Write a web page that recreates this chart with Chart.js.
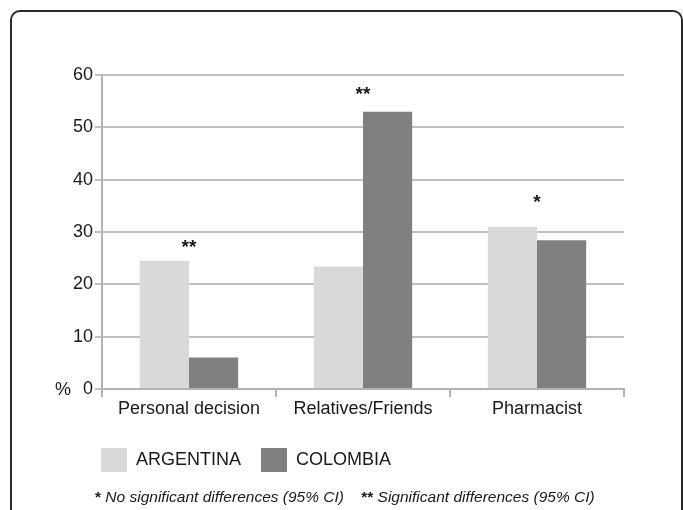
<!DOCTYPE html>
<html>
<head>
<meta charset="utf-8">
<script src="https://cdn.jsdelivr.net/npm/chart.js@4"></script>
<style>
  body { margin: 0; background: #fff; }
  #frame {
    position: absolute; left: 10px; top: 10px; width: 673px; height: 520px;
    border: 2px solid #2a2a2a; border-radius: 10px; box-sizing: border-box;
  }
  #wrap { position: absolute; left: 0; top: 0; width: 683px; height: 510px; }
</style>
</head>
<body>
<div id="frame"></div>
<div id="wrap"><canvas id="myChart" width="683" height="510"></canvas></div>
<script>
var categories = ["Personal decision", "Relatives/Friends", "Pharmacist"];
var argentina = [24.5, 23.4, 31.0];
var colombia = [6.0, 53.0, 28.4];
var yTicks = [0, 10, 20, 30, 40, 50, 60];
// significance marks and where they sit (in % units)
var marks = ["**", "**", "*"];
var markLevel = [27.8, 57.0, 36.4];
var footnote = [["*", "bold"], [" No significant differences (95% CI)", "italic"], ["    ", "italic"], ["**", "bold"], [" Significant differences (95% CI)", "italic"]];

var textColor = "#1a1a1a";
var fontName = "'Liberation Sans', Arial, sans-serif";
var legendShift = 21;

var extras = {
  id: "extras",
  afterLayout: function(chart) {
    // legend sits a bit further right than the layout puts it
    chart.legend.left += legendShift;
    chart.legend.right += legendShift;
  },
  afterDraw: function(chart) {
    var ctx = chart.ctx;
    var x = chart.scales.x, y = chart.scales.y;
    ctx.save();
    ctx.fillStyle = textColor;
    // asterisks over the groups
    ctx.font = "bold 19px " + fontName;
    ctx.textAlign = "center";
    ctx.textBaseline = "middle";
    for (var i = 0; i < marks.length; i++) {
      ctx.fillText(marks[i], x.getPixelForValue(i), y.getPixelForValue(markLevel[i]) + 4);
    }
    // % unit next to the zero tick
    ctx.font = "18px " + fontName;
    ctx.textAlign = "left";
    ctx.fillText("%", chart.chartArea.left - 47, y.getPixelForValue(0) + 1);
    // footnote under the legend
    var fx = chart.legend.left + 14;
    var fy = chart.legend.bottom + 16;
    for (var j = 0; j < footnote.length; j++) {
      ctx.font = (footnote[j][1] == "bold" ? "bold 15.5px " : "italic 15.5px ") + fontName;
      ctx.fillText(footnote[j][0], fx, fy);
      fx += ctx.measureText(footnote[j][0]).width;
    }
    ctx.restore();
  }
};

new Chart("myChart", {
  type: "bar",
  data: {
    labels: categories,
    datasets: [{
      label: "ARGENTINA",
      data: argentina,
      backgroundColor: "#d9d9d9",
      borderWidth: 0
    }, {
      label: "COLOMBIA",
      data: colombia,
      backgroundColor: "#808080",
      borderWidth: 0
    }]
  },
  options: {
    responsive: false,
    animation: false,
    devicePixelRatio: 1,
    layout: { padding: { left: 60, right: 59, top: 75, bottom: 28 } },
    categoryPercentage: 0.565,
    barPercentage: 1,
    plugins: {
      tooltip: { enabled: false },
      legend: {
        position: "bottom",
        align: "start",
        labels: {
          boxWidth: 26,
          boxHeight: 24,
          padding: 20,
          color: textColor,
          font: { family: fontName, size: 18 }
        }
      }
    },
    scales: {
      x: {
        afterFit: function(scale) { scale.height = 39; },
        border: { display: true, color: "#b3b3b3", width: 2 },
        grid: { drawOnChartArea: false, offset: true, tickLength: 8, color: "#b3b3b3", lineWidth: 2 },
        ticks: { color: textColor, padding: 1, font: { family: fontName, size: 18 } }
      },
      y: {
        min: 0,
        max: 60,
        afterFit: function(scale) { scale.width = 42; },
        afterBuildTicks: function(scale) { scale.ticks = yTicks.map(function(v) { return { value: v }; }); },
        border: { display: true, color: "#b3b3b3", width: 2 },
        grid: { color: "#c0c0c0", lineWidth: 2, tickLength: 7 },
        ticks: { color: textColor, padding: 2, font: { family: fontName, size: 18 } }
      }
    }
  },
  plugins: [extras]
});
</script>
</body>
</html>
